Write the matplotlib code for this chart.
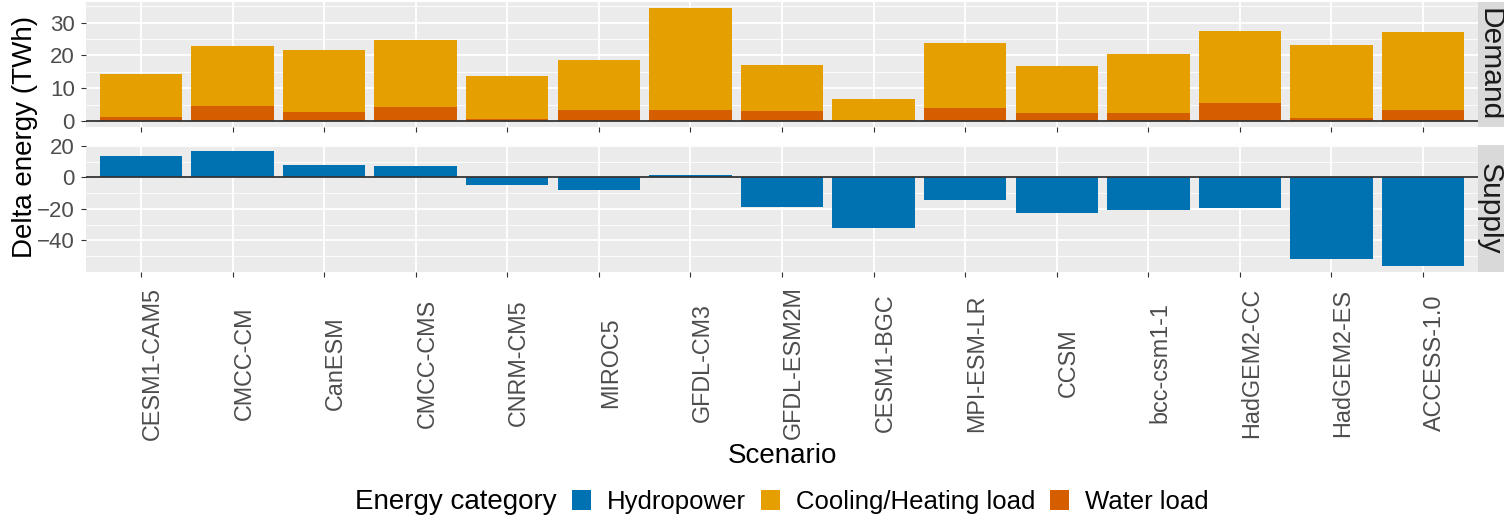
import numpy as np
import matplotlib
matplotlib.use('Agg')
import matplotlib.pyplot as plt
import matplotlib.transforms as mtransforms
from matplotlib.patches import Patch

plt.rcParams['font.family'] = ['Liberation Sans', 'DejaVu Sans']

scenarios = ['CESM1-CAM5', 'CMCC-CM', 'CanESM', 'CMCC-CMS', 'CNRM-CM5', 'MIROC5',
             'GFDL-CM3', 'GFDL-ESM2M', 'CESM1-BGC', 'MPI-ESM-LR', 'CCSM',
             'bcc-csm1-1', 'HadGEM2-CC', 'HadGEM2-ES', 'ACCESS-1.0']

# demand side (TWh)
water_load = [1.2, 4.7, 2.7, 4.4, 0.6, 3.4, 3.4, 3.2, 0.3, 4.0, 2.5, 2.5, 5.7, 1.0, 3.4]
cooling_heating = [13.3, 18.1, 18.9, 20.2, 13.3, 15.2, 31.1, 13.8, 6.6, 19.8,
                   14.3, 17.9, 21.8, 22.1, 23.6]

# supply side (TWh)
hydropower = [13.4, 17.0, 8.1, 7.0, -5.1, -7.9, 1.7, -18.7, -32.0, -14.4,
              -22.9, -20.4, -19.3, -51.8, -56.5]

colors = {'Hydropower': '#0072B2', 'Cooling/Heating load': '#E69F00', 'Water load': '#D55E00'}

W, H = 1504, 522
fig = plt.figure(figsize=(W / 100, H / 100), dpi=100)

px_l, px_r, strip_r = 86, 1478, 1504


def panel_axes(top, bottom):
    return fig.add_axes([px_l / W, 1 - bottom / H, (px_r - px_l) / W, (bottom - top) / H])


def padded(lo, hi, frac=0.05):
    span = hi - lo
    return lo - frac * span, hi + frac * span


def style_panel(ax, major, minor):
    ax.set_facecolor('#EBEBEB')
    for s in ax.spines.values():
        s.set_visible(False)
    ax.set_xlim(-0.6, len(scenarios) - 0.4)
    ax.set_yticks(major)
    ax.set_yticks(minor, minor=True)
    ax.set_xticks(np.arange(len(scenarios)))
    ax.grid(True, which='major', color='white', lw=1.3)
    ax.grid(True, which='minor', axis='y', color='white', lw=0.6)
    ax.set_axisbelow(True)
    ax.tick_params(axis='both', which='major', length=3.5, width=0.8, color='#333333',
                   labelsize=16, labelcolor='#4D4D4D', pad=4.5)
    ax.tick_params(axis='both', which='minor', length=0)
    ax.tick_params(axis='x', labelbottom=False)
    ax.axhline(0, color='#333333', lw=1.3, zorder=3)


def strip(ax, label):
    pos = ax.get_position()
    sax = fig.add_axes([px_r / W, pos.y0, (strip_r - px_r) / W, pos.height])
    sax.set_facecolor('#D9D9D9')
    sax.set_xticks([])
    sax.set_yticks([])
    for s in sax.spines.values():
        s.set_visible(False)
    # baseline sits near the left of the strip, letters point to the right
    sax.text(4 / (strip_r - px_r), 0.5, label, rotation=-90, rotation_mode='anchor',
             ha='center', va='baseline', fontsize=21.5, color='#1A1A1A',
             transform=sax.transAxes, clip_on=True)


x = np.arange(len(scenarios))
totals = np.array(water_load) + np.array(cooling_heating)

# Demand panel
ax1 = panel_axes(2, 127)
ax1.bar(x, water_load, width=0.9, color=colors['Water load'], zorder=2)
ax1.bar(x, cooling_heating, width=0.9, bottom=water_load,
        color=colors['Cooling/Heating load'], zorder=2)
style_panel(ax1, [0, 10, 20, 30], [5, 15, 25, 35])
ax1.set_ylim(*padded(0, totals.max()))
strip(ax1, 'Demand')

# Supply panel
ax2 = panel_axes(145, 272)
ax2.bar(x, hydropower, width=0.9, color=colors['Hydropower'], zorder=2)
style_panel(ax2, [-40, -20, 0, 20], [-50, -30, -10, 10])
ax2.set_ylim(*padded(min(hydropower), max(hydropower)))
strip(ax2, 'Supply')

# scenario names: vertical, centred on one line, tops of letters on the tick
lab_tr = mtransforms.blended_transform_factory(ax2.transData, fig.transFigure)
for xi, name in zip(x, scenarios):
    ax2.text(xi, 1 - 363 / H, name, rotation=90, rotation_mode='anchor',
             ha='center', va='top', fontsize=16.8, color='#4D4D4D',
             transform=lab_tr, clip_on=False)

fig.text(25 / W, 1 - 137 / H, 'Delta energy (TWh)', rotation=90, ha='center',
         va='center', fontsize=20)
fig.text(782 / W, 1 - 456 / H, 'Scenario', ha='center', va='center', fontsize=20)

# legend along the bottom with its title on the left
fig.text(557 / W, 1 - 502 / H, 'Energy category', ha='right', va='center', fontsize=20)
handles = [Patch(facecolor=colors[k], edgecolor='none') for k in colors]
fig.legend(handles, list(colors), loc='center left', bbox_to_anchor=(572 / W, 1 - 502 / H),
           ncol=3, frameon=False, fontsize=18.5, borderpad=0, borderaxespad=0,
           handlelength=0.74, handleheight=0.78, handletextpad=0.62, columnspacing=0.58)

fig.savefig('out.png', dpi=100)
